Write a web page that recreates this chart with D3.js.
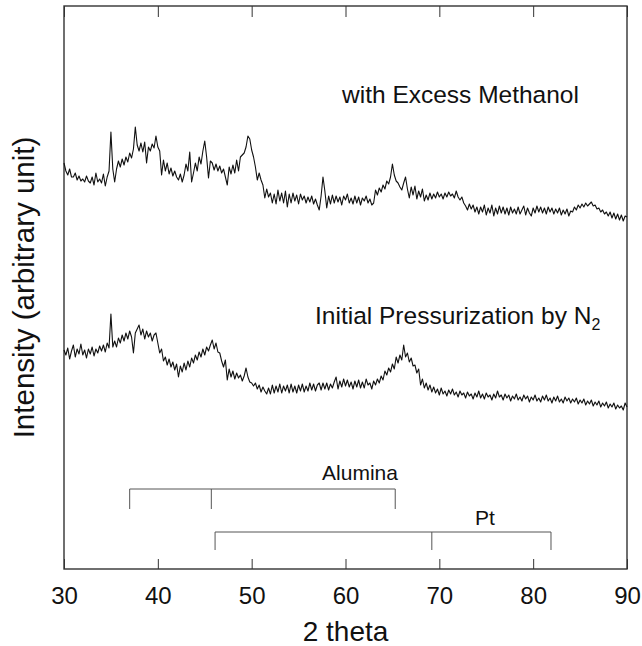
<!DOCTYPE html>
<html>
<head>
<meta charset="utf-8">
<script src="https://cdn.jsdelivr.net/npm/d3@7"></script>
<style>
  body { margin: 0; background: #fff; }
  text { font-family: "Liberation Sans", Arial, sans-serif; fill: #111; }
</style>
</head>
<body>
<div id="chart"></div>
<script>
// 2 theta grid of both scans: 30.0 to 90.0 in 0.2 steps
const angleStart = 30, angleStep = 0.2;
const xTicks = [30, 40, 50, 60, 70, 80, 90];

// intensity, arbitrary units
const methanolScan = [
  406, 398, 394, 400, 392, 392, 396, 389, 393, 388,
  390, 387, 393, 388, 386, 392, 384, 396, 387, 390,
  386, 395, 383, 392, 398, 437, 400, 387, 400, 408,
  402, 410, 404, 412, 407, 416, 411, 420, 442, 424,
  418, 426, 417, 427, 406, 422, 418, 425, 421, 433,
  422, 418, 394, 409, 398, 406, 395, 401, 393, 398,
  392, 389, 395, 387, 394, 405, 398, 417, 387, 396,
  406, 398, 412, 405, 418, 428, 412, 391, 408, 406,
  399, 405, 398, 403, 396, 400, 392, 384, 402, 395,
  404, 396, 409, 398, 412, 414, 416, 422, 433, 430,
  419, 412, 402, 389, 396, 389, 384, 371, 380, 372,
  376, 366, 375, 365, 379, 368, 376, 366, 378, 362,
  375, 366, 376, 368, 374, 365, 375, 369, 373, 366,
  372, 367, 373, 365, 370, 364, 359, 373, 392, 378,
  361, 373, 365, 374, 366, 373, 367, 372, 364, 373,
  369, 375, 366, 371, 365, 373, 366, 372, 364, 371,
  368, 373, 366, 370, 364, 366, 379, 374, 381, 377,
  384, 380, 388, 385, 392, 405, 394, 388, 386, 382,
  379, 386, 392, 380, 371, 382, 374, 383, 370, 378,
  372, 380, 368, 374, 369, 376, 370, 375, 371, 377,
  372, 375, 370, 376, 372, 377, 373, 375, 371, 378,
  372, 369, 372, 366, 363, 359, 365, 360, 364, 357,
  362, 355, 362, 357, 364, 354, 361, 356, 364, 353,
  361, 355, 363, 356, 362, 355, 361, 354, 362, 356,
  360, 355, 362, 355, 359, 363, 354, 361, 356, 353,
  361, 356, 363, 357, 362, 356, 361, 355, 362, 357,
  361, 355, 360, 356, 361, 354, 359, 355, 360, 353,
  358, 357, 362, 359, 364, 361, 365, 362, 366, 363,
  365, 367, 363, 364, 360, 361, 357, 359, 355, 357,
  353, 357, 351, 356, 350, 355, 349, 354, 348, 353,
  352
];

const nitrogenScan = [
  219, 214, 221, 210, 218, 224, 212, 220, 215, 225,
  214, 219, 211, 220, 215, 222, 213, 220, 216, 223,
  218, 224, 217, 226, 221, 255, 222, 228, 222, 231,
  226, 234, 228, 236, 230, 238, 232, 216, 236, 240,
  244, 234, 240, 230, 238, 232, 236, 228, 234, 236,
  226, 216, 220, 208, 212, 204, 210, 202, 207, 199,
  205, 192, 203, 197, 206, 199, 208, 202, 211, 206,
  214, 209, 217, 212, 220, 214, 222, 218, 224, 229,
  220, 226, 217, 216, 208, 202, 209, 189, 200, 192,
  198, 190, 196, 191, 194, 188, 193, 201, 192, 187,
  186, 183, 186, 180, 184, 177, 182, 178, 175, 181,
  175, 184, 176, 183, 177, 185, 176, 183, 178, 184,
  176, 185, 177, 183, 176, 184, 178, 185, 177, 183,
  178, 186, 179, 185, 178, 184, 186, 179, 186, 180,
  186, 179, 185, 181, 187, 192, 180, 188, 182, 190,
  183, 189, 182, 187, 180, 188, 182, 189, 181, 187,
  181, 190, 184, 186, 180, 188, 184, 190, 186, 193,
  189, 198, 194, 201, 197, 205, 200, 212, 206, 214,
  209, 224, 212, 216, 207, 211, 203, 204, 196, 200,
  184, 190, 181, 186, 179, 184, 177, 182, 176, 180,
  174, 181, 175, 178, 173, 179, 175, 180, 174, 177,
  172, 178, 174, 176, 171, 177, 173, 175, 170, 176,
  172, 178, 171, 175, 170, 176, 172, 174, 169, 175,
  171, 178, 172, 174, 169, 175, 171, 174, 168, 173,
  170, 175, 169, 172, 168, 174, 170, 173, 167, 172,
  169, 174, 168, 171, 167, 173, 169, 174, 168, 171,
  166, 172, 168, 173, 167, 170, 166, 172, 168, 171,
  166, 170, 167, 171, 165, 169, 166, 170, 164, 168,
  165, 169, 163, 167, 164, 168, 162, 166, 163, 167,
  161, 165, 162, 166, 160, 164, 161, 163, 159, 166,
  162
];

// reference peak positions (2 theta)
const aluminaPeaks = [37.0, 45.7, 65.3];
const ptPeaks = [46.1, 69.2, 81.9];

const width = 642, height = 646;
const margin = { top: 6, right: 15, bottom: 77, left: 64 };
const bodyWidth = width - margin.left - margin.right;
const bodyHeight = height - margin.top - margin.bottom;

const svg = d3.select("#chart").append("svg")
    .attr("width", width)
    .attr("height", height);
const g = svg.append("g")
    .attr("transform", "translate(" + [margin.left, margin.top] + ")");

const xScale = d3.scaleLinear().domain([30, 90]).range([0, bodyWidth]);
const yScale = d3.scaleLinear().domain([0, bodyHeight]).range([bodyHeight, 0]);

// frame
g.append("rect")
    .attr("width", bodyWidth)
    .attr("height", bodyHeight)
    .attr("fill", "none")
    .attr("stroke", "#333")
    .attr("stroke-width", 1.4);

// inward ticks, bottom and top
const axisBottom = d3.axisBottom(xScale).tickValues(xTicks).tickSize(-10).tickPadding(22).tickFormat(d3.format("d"));
const bx = g.append("g").attr("transform", "translate(0," + bodyHeight + ")").call(axisBottom);
bx.select(".domain").remove();
bx.selectAll("line").attr("stroke", "#333");
bx.selectAll("text").style("font-size", "24px").attr("fill", "#111").attr("dy", "0.55em");

const axisTop = d3.axisTop(xScale).tickValues(xTicks).tickSize(-11).tickFormat("");
const tx = g.append("g").call(axisTop);
tx.select(".domain").remove();
tx.selectAll("line").attr("stroke", "#333");

// scans
const line = d3.line()
    .x((d, i) => xScale(angleStart + i * angleStep))
    .y(d => yScale(d));

[methanolScan, nitrogenScan].forEach(scan => {
    g.append("path")
        .datum(scan)
        .attr("d", line)
        .attr("fill", "none")
        .attr("stroke", "#111")
        .attr("stroke-width", 1.1)
        .attr("stroke-linejoin", "round");
});

// reference brackets
function bracket(peaks, level, drop, label, labelX, labelY){
    let b = g.append("g").attr("stroke", "#555").attr("stroke-width", 1).attr("fill", "none");
    b.append("line")
        .attr("x1", xScale(d3.min(peaks))).attr("x2", xScale(d3.max(peaks)))
        .attr("y1", yScale(level)).attr("y2", yScale(level));
    peaks.forEach(p => {
        b.append("line")
            .attr("x1", xScale(p)).attr("x2", xScale(p))
            .attr("y1", yScale(level)).attr("y2", yScale(level - drop));
    });
    g.append("text")
        .attr("x", labelX).attr("y", labelY)
        .attr("text-anchor", "middle")
        .style("font-size", "21px")
        .text(label);
}
bracket(aluminaPeaks, 80, 20, "Alumina", 296, 474);
bracket(ptPeaks, 37, 18, "Pt", 421, 519);

// scan labels
g.append("text")
    .attr("x", 278).attr("y", 97)
    .style("font-size", "24.5px")
    .text("with Excess Methanol");

const n2 = g.append("text")
    .attr("x", 251).attr("y", 318)
    .style("font-size", "24.5px");
n2.append("tspan").text("Initial Pressurization by N");
n2.append("tspan").attr("dy", 6).style("font-size", "16px").text("2");

// axis titles
svg.append("text")
    .attr("x", margin.left + bodyWidth / 2)
    .attr("y", 641)
    .attr("text-anchor", "middle")
    .style("font-size", "28px")
    .text("2 theta");

svg.append("text")
    .attr("transform", "translate(34," + (margin.top + bodyHeight / 2) + ") rotate(-90)")
    .attr("text-anchor", "middle")
    .style("font-size", "29.5px")
    .text("Intensity (arbitrary unit)");
</script>
</body>
</html>
